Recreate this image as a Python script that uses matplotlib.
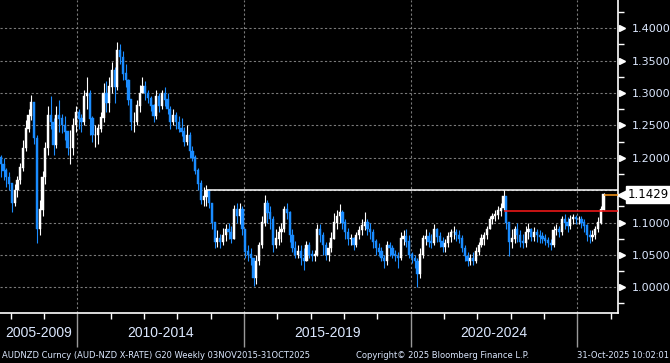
import numpy as np
import pandas as pd
import matplotlib
matplotlib.use("Agg")
import matplotlib.pyplot as plt
import matplotlib.dates as mdates

# monthly AUDNZD candles (Sep 2007 .. Oct 2025)
months = pd.date_range("2007-09-01", "2025-10-01", freq="MS") + pd.Timedelta(days=14)
first_open = 1.200

closes = [
    1.190, 1.180, 1.170, 1.160,
    1.130, 1.150, 1.165, 1.185, 1.215, 1.245, 1.265, 1.285, 1.230, 1.090, 1.120, 1.170,
    1.215, 1.265, 1.255, 1.220, 1.265, 1.260, 1.250, 1.240, 1.215, 1.215, 1.250, 1.270,
    1.260, 1.255, 1.295, 1.300, 1.260, 1.235, 1.235, 1.245, 1.262, 1.300, 1.285, 1.310,
    1.335, 1.310, 1.365, 1.355, 1.330, 1.320, 1.290, 1.255, 1.255, 1.280, 1.300, 1.310,
    1.300, 1.292, 1.280, 1.265, 1.295, 1.280, 1.300, 1.290, 1.275, 1.255, 1.265, 1.255,
    1.245, 1.240, 1.225, 1.235, 1.210, 1.200, 1.180, 1.160, 1.135, 1.140, 1.150, 1.130,
    1.100, 1.070, 1.075, 1.070, 1.080, 1.090, 1.085, 1.075, 1.120, 1.110, 1.120, 1.090,
    1.055, 1.050, 1.045, 1.015, 1.040, 1.065, 1.100, 1.130, 1.115, 1.105, 1.065, 1.075,
    1.085, 1.090, 1.120, 1.115, 1.080, 1.060, 1.050, 1.055, 1.045, 1.040, 1.065, 1.050,
    1.048, 1.050, 1.090, 1.080, 1.065, 1.050, 1.060, 1.075, 1.100, 1.110, 1.115, 1.100,
    1.085, 1.075, 1.075, 1.065, 1.080, 1.088, 1.095, 1.100, 1.090, 1.085, 1.070, 1.060,
    1.055, 1.045, 1.040, 1.065, 1.060, 1.050, 1.048, 1.045, 1.075, 1.078, 1.070, 1.050,
    1.045, 1.040, 1.020, 1.050, 1.075, 1.078, 1.070, 1.068, 1.090, 1.078, 1.070, 1.062,
    1.068, 1.078, 1.085, 1.085, 1.080, 1.075, 1.060, 1.048, 1.040, 1.045, 1.040, 1.055,
    1.065, 1.075, 1.080, 1.090, 1.105, 1.110, 1.112, 1.118, 1.122, 1.140, 1.100, 1.070,
    1.075, 1.090, 1.080, 1.070, 1.068, 1.085, 1.090, 1.078, 1.085, 1.080, 1.078, 1.075,
    1.072, 1.068, 1.065, 1.088, 1.090, 1.085, 1.105, 1.100, 1.095, 1.105, 1.108, 1.105,
    1.105, 1.100, 1.095, 1.080, 1.078, 1.080, 1.090, 1.100, 1.120, 1.1429,
]
highs = [
    1.205, 1.200, 1.185, 1.178,
    1.160, 1.160, 1.172, 1.192, 1.228, 1.258, 1.275, 1.297, 1.285, 1.235, 1.135, 1.180,
    1.225, 1.280, 1.295, 1.262, 1.280, 1.290, 1.268, 1.265, 1.240, 1.243, 1.262, 1.280,
    1.275, 1.268, 1.305, 1.325, 1.305, 1.265, 1.250, 1.252, 1.270, 1.315, 1.318, 1.325,
    1.348, 1.340, 1.379, 1.375, 1.365, 1.345, 1.322, 1.290, 1.270, 1.290, 1.312, 1.325,
    1.318, 1.305, 1.295, 1.283, 1.305, 1.300, 1.305, 1.310, 1.300, 1.280, 1.275, 1.270,
    1.265, 1.262, 1.248, 1.250, 1.240, 1.218, 1.205, 1.185, 1.165, 1.155, 1.158, 1.152,
    1.130, 1.095, 1.088, 1.082, 1.092, 1.098, 1.100, 1.095, 1.127, 1.130, 1.130, 1.125,
    1.090, 1.065, 1.060, 1.045, 1.050, 1.070, 1.110, 1.143, 1.135, 1.125, 1.110, 1.090,
    1.095, 1.100, 1.125, 1.130, 1.118, 1.090, 1.072, 1.065, 1.065, 1.060, 1.072, 1.070,
    1.058, 1.058, 1.098, 1.098, 1.085, 1.070, 1.070, 1.085, 1.115, 1.120, 1.129, 1.120,
    1.105, 1.092, 1.082, 1.078, 1.085, 1.095, 1.105, 1.117, 1.105, 1.100, 1.090, 1.075,
    1.068, 1.062, 1.050, 1.072, 1.070, 1.065, 1.058, 1.055, 1.085, 1.088, 1.090, 1.080,
    1.055, 1.050, 1.045, 1.060, 1.080, 1.090, 1.085, 1.082, 1.097, 1.092, 1.085, 1.078,
    1.075, 1.085, 1.090, 1.095, 1.090, 1.088, 1.080, 1.065, 1.055, 1.052, 1.055, 1.062,
    1.070, 1.082, 1.085, 1.095, 1.110, 1.115, 1.120, 1.125, 1.130, 1.150, 1.140, 1.100,
    1.090, 1.095, 1.100, 1.088, 1.082, 1.095, 1.100, 1.092, 1.093, 1.090, 1.088, 1.085,
    1.082, 1.078, 1.075, 1.095, 1.097, 1.095, 1.110, 1.113, 1.108, 1.112, 1.113, 1.112,
    1.110, 1.110, 1.105, 1.098, 1.088, 1.088, 1.095, 1.108, 1.125, 1.145,
]
lows = [
    1.170, 1.165, 1.155, 1.150,
    1.117, 1.125, 1.140, 1.160, 1.180, 1.210, 1.240, 1.258, 1.222, 1.068, 1.080, 1.110,
    1.160, 1.205, 1.245, 1.205, 1.215, 1.240, 1.238, 1.228, 1.205, 1.190, 1.205, 1.240,
    1.245, 1.240, 1.250, 1.275, 1.235, 1.225, 1.217, 1.222, 1.240, 1.255, 1.270, 1.270,
    1.300, 1.285, 1.305, 1.345, 1.320, 1.310, 1.282, 1.243, 1.240, 1.250, 1.270, 1.300,
    1.290, 1.285, 1.272, 1.255, 1.260, 1.270, 1.275, 1.280, 1.268, 1.245, 1.250, 1.245,
    1.240, 1.233, 1.218, 1.220, 1.200, 1.195, 1.175, 1.150, 1.128, 1.125, 1.125, 1.122,
    1.090, 1.060, 1.063, 1.060, 1.065, 1.072, 1.075, 1.068, 1.080, 1.100, 1.098, 1.080,
    1.045, 1.040, 1.035, 1.002, 1.005, 1.035, 1.060, 1.095, 1.100, 1.090, 1.055, 1.060,
    1.065, 1.070, 1.085, 1.105, 1.070, 1.055, 1.045, 1.045, 1.035, 1.027, 1.040, 1.045,
    1.040, 1.040, 1.048, 1.070, 1.050, 1.042, 1.040, 1.055, 1.075, 1.090, 1.100, 1.090,
    1.075, 1.065, 1.065, 1.058, 1.062, 1.075, 1.080, 1.088, 1.080, 1.075, 1.060, 1.050,
    1.048, 1.040, 1.030, 1.035, 1.048, 1.045, 1.040, 1.030, 1.042, 1.065, 1.062, 1.045,
    1.038, 1.030, 1.000, 1.015, 1.045, 1.065, 1.062, 1.060, 1.065, 1.070, 1.062, 1.055,
    1.055, 1.062, 1.070, 1.075, 1.072, 1.068, 1.055, 1.040, 1.033, 1.035, 1.035, 1.038,
    1.050, 1.062, 1.065, 1.075, 1.090, 1.098, 1.103, 1.105, 1.110, 1.120, 1.090, 1.048,
    1.060, 1.068, 1.070, 1.062, 1.060, 1.062, 1.075, 1.072, 1.072, 1.070, 1.068, 1.068,
    1.065, 1.062, 1.058, 1.062, 1.080, 1.078, 1.080, 1.090, 1.085, 1.090, 1.098, 1.098,
    1.098, 1.092, 1.085, 1.072, 1.068, 1.072, 1.075, 1.085, 1.098, 1.120,
]

resist_level = 1.1495
resist_start = "2013-11-15"
support_level = 1.1174
support_start = "2022-10-25"
last_price = closes[-1]

# 1.1500 has no label on the chart (the price tag sits there)
price_ticks = [1.00, 1.05, 1.10, 1.15, 1.20, 1.25, 1.30, 1.35, 1.40]
hidden_tick = 1.15

period_labels = ["2005-2009", "2010-2014", "2015-2019", "2020-2024"]
period_starts = ["2005-01-01", "2010-01-01", "2015-01-01", "2020-01-01"]
period_ends = ["2010-01-01", "2015-01-01", "2020-01-01", "2025-01-01"]

footer_left = "AUDNZD Curncy (AUD-NZD X-RATE) G20 Weekly 03NOV2015-31OCT2025"
footer_mid = "Copyright\u00a9 2025 Bloomberg Finance L.P."
footer_right = "31-Oct-2025 10:02:01"

UP = "#ffffff"
DOWN = "#1a8cff"
LABEL = "#dce8ff"
GRID = "#7a7a7a"

c = np.array(closes)
o = np.concatenate([[first_open], c[:-1]])
h = np.maximum(np.array(highs), np.maximum(o, c))
l = np.minimum(np.array(lows), np.minimum(o, c))
x = mdates.date2num(months)
up = c >= o
cols = np.where(up, UP, DOWN)

fig = plt.figure(figsize=(6.7, 3.63), dpi=100, facecolor="black")
ax = fig.add_axes([0, 1 - 313 / 363, 618 / 670, 313 / 363], facecolor="black")

xmin = mdates.date2num(pd.Timestamp("2007-09-06"))
xmax = mdates.date2num(pd.Timestamp("2026-03-22"))
ax.set_xlim(xmin, xmax)
ax.set_ylim(0.9603, 1.4437)

# grid
ax.set_yticks(price_ticks)
ax.set_yticklabels(["" if abs(t - hidden_tick) < 1e-9 else "%.4f" % t
                    for t in price_ticks])
ax.yaxis.set_minor_locator(plt.MultipleLocator(0.025))
ax.xaxis.set_major_locator(mdates.YearLocator(5))
ax.xaxis.set_minor_locator(mdates.YearLocator(1))
ax.grid(True, which="major", color=GRID, linestyle=(0, (2, 2)), linewidth=0.8)
ax.set_axisbelow(True)

# candles
ax.vlines(x, l, h, colors=cols, linewidth=0.8, zorder=3)
ax.bar(x, np.abs(c - o) + 0.0008, bottom=np.minimum(o, c), width=24,
       color=cols, edgecolor=cols, linewidth=0.3, zorder=4)

# horizontal levels
ax.hlines(resist_level, mdates.date2num(pd.Timestamp(resist_start)), xmax,
          colors="white", linewidth=1.1, zorder=5)
ax.hlines(support_level, mdates.date2num(pd.Timestamp(support_start)), xmax,
          colors="#ff1a1a", linewidth=1.1, zorder=5)
ax.hlines(last_price, x[-1], xmax, colors="#ff9a1a", linewidth=1.1, zorder=5)

# spines
for s in ["top", "left"]:
    ax.spines[s].set_visible(False)
ax.spines["right"].set_color("white")
ax.spines["bottom"].set_color("white")
ax.spines["right"].set_linewidth(1.2)
ax.spines["bottom"].set_linewidth(1.2)

# right axis
ax.yaxis.tick_right()
ax.tick_params(axis="y", which="major", length=0, pad=10, labelsize=8,
               labelcolor=LABEL)
ax.tick_params(axis="y", which="minor", length=4, width=1, color="white",
               direction="out")
shown = [t for t in price_ticks if abs(t - hidden_tick) > 1e-9]
ax.plot(np.full(len(shown), 1.006), shown, linestyle="none", marker=">",
        markersize=5, color="white", transform=ax.get_yaxis_transform(),
        clip_on=False)

# bottom axis
ax.tick_params(axis="x", which="minor", length=4, width=1, color="white",
               direction="out")
ax.tick_params(axis="x", which="major", length=24.5, width=1, color="#9a9a9a",
               direction="out")
ax.set_xticklabels([])
for lab, a, b in zip(period_labels, period_starts, period_ends):
    a = max(mdates.date2num(pd.Timestamp(a)), xmin)
    b = mdates.date2num(pd.Timestamp(b))
    ax.text((a + b) / 2, -0.064, lab, transform=ax.get_xaxis_transform(),
            ha="center", va="center", color=LABEL, fontsize=10,
            family="Liberation Sans")

# last price tag
ax.plot([1.008], [last_price], marker="<", markersize=8, color="white",
        transform=ax.get_yaxis_transform(), clip_on=False)
ax.text(1.016, last_price, "1.1429", transform=ax.get_yaxis_transform(),
        ha="left", va="center", color="black", fontsize=8.5,
        bbox=dict(boxstyle="square,pad=0.18", fc="white", ec="white"))

# footer
fig.text(0.003, 0.022, footer_left, color=LABEL, fontsize=6, ha="left", va="center")
fig.text(0.532, 0.022, footer_mid, color=LABEL, fontsize=6, ha="left", va="center")
fig.text(0.998, 0.022, footer_right, color=LABEL, fontsize=6, ha="right", va="center")

fig.savefig("out.png", dpi=100, facecolor="black")
